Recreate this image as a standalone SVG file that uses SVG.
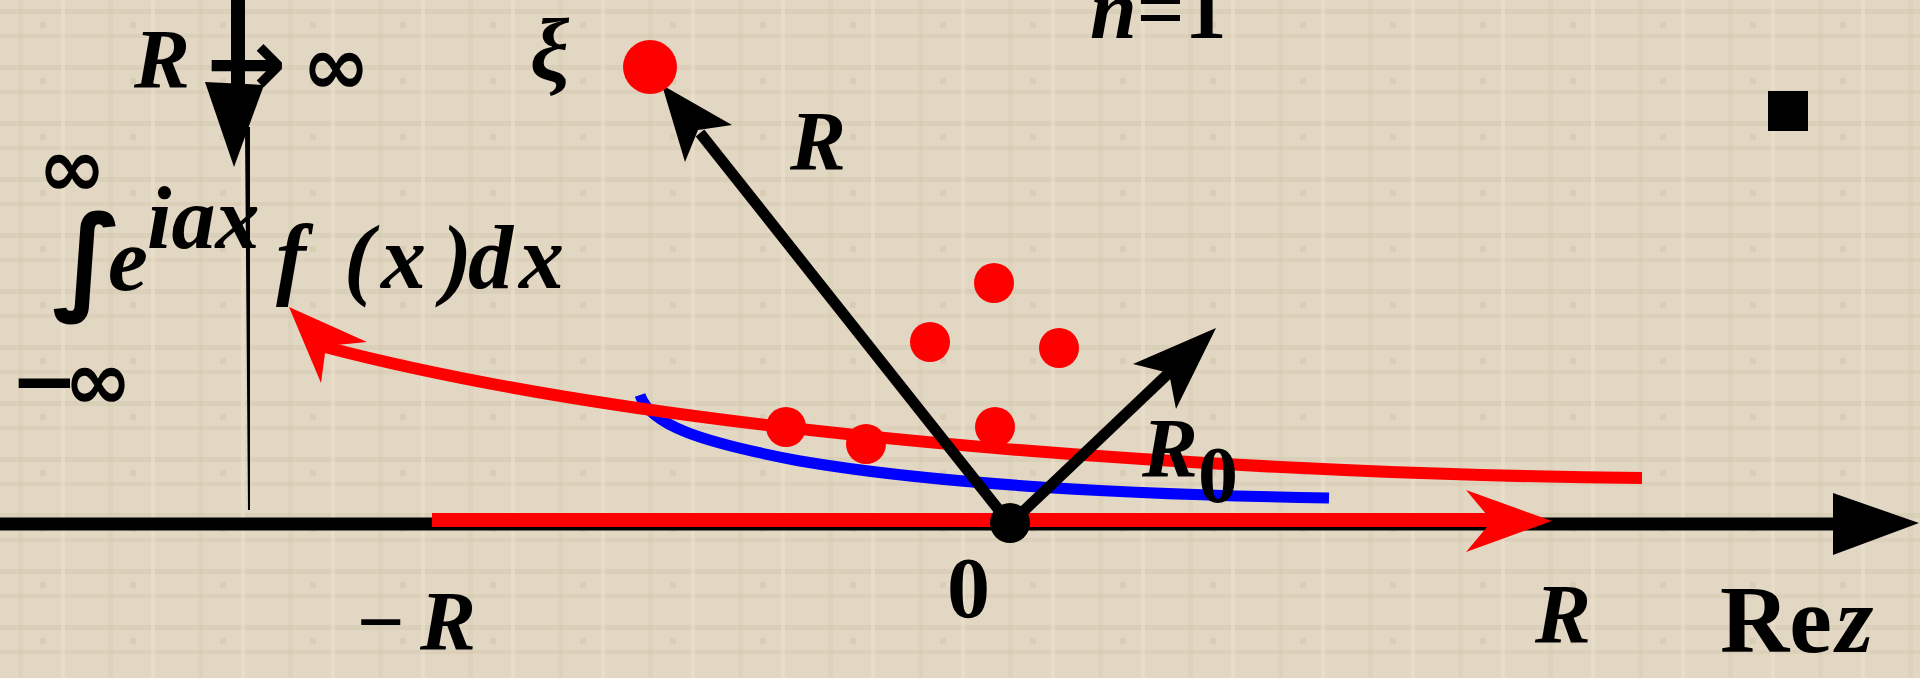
<svg xmlns="http://www.w3.org/2000/svg" width="1920" height="678" viewBox="0 0 1920 678">
<defs>
<style>
.bi{font-family:"Liberation Serif","Times New Roman",serif;font-weight:bold;font-style:italic;fill:#000}
.b{font-family:"Liberation Serif","Times New Roman",serif;font-weight:bold;fill:#000}
.sym{font-family:"DejaVu Sans",sans-serif;font-weight:bold;fill:#000}
.dot{fill:#ff0000}
.blk{stroke:#000;fill:none}
.red{stroke:#ff0000;fill:none}
</style>
<pattern id="grain" width="90" height="56" patternUnits="userSpaceOnUse">
<rect width="90" height="56" fill="#e1d7c2"/>
<rect x="0" y="9" width="90" height="5" fill="#cbbda4" opacity="0.3"/>
<rect x="0" y="34" width="90" height="4" fill="#cbbda4" opacity="0.25"/>
<rect x="18" y="0" width="5" height="56" fill="#cbbda4" opacity="0.22"/>
<rect x="61" y="0" width="4" height="56" fill="#efe5d0" opacity="0.45"/>
<rect x="40" y="22" width="6" height="6" fill="#bfb095" opacity="0.25"/>
</pattern>
</defs>
<rect width="1920" height="678" fill="url(#grain)"/>

<g id="connectors">
<!-- real axis -->
<line class="blk" x1="0" y1="524" x2="1835" y2="524" stroke-width="13"/>
<polygon points="1833,493 1919,523 1833,555" fill="#000"/>
<!-- vertical axis -->
<rect x="231" y="0" width="14" height="85" fill="#000"/>
<polygon points="205,82 264,85 234,167" fill="#000"/>
<polygon points="245,127 250,127 250,510 248,510" fill="#000"/>
<!-- blue contour -->
<path d="M 640 395 C 650 425, 700 442, 800 461 C 900 478, 1050 493, 1329 498" stroke="#0000ff" stroke-width="11" fill="none"/>
<!-- red upper contour -->
<path class="red" d="M 1642 478 C 1300 475, 700 445, 325 347" stroke-width="12"/>
<polygon points="289,307 367,342 326,346 321,383" fill="#ff0000"/>
<!-- red real-line path -->
<line class="red" x1="432" y1="520" x2="1495" y2="520" stroke-width="14"/>
<polygon points="1552,521 1466,490 1492,521 1466,552" fill="#ff0000"/>
<!-- radius arrows -->
<line class="blk" x1="1010" y1="524" x2="700" y2="133" stroke-width="11"/>
<polygon points="662,85 732,125 698,130 685,162" fill="#000"/>
<line class="blk" x1="1010" y1="524" x2="1172" y2="370" stroke-width="11"/>
<polygon points="1216,328 1176,409 1169,373 1133,364" fill="#000"/>
</g>

<g id="origin"><circle cx="1010" cy="523" r="20" fill="#000"/></g>
<g id="xi-point"><circle class="dot" cx="650" cy="67" r="27"/></g>
<g id="poles">
<circle class="dot" cx="994" cy="283" r="20"/>
<circle class="dot" cx="930" cy="342" r="20"/>
<circle class="dot" cx="1059" cy="348" r="20"/>
<circle class="dot" cx="786" cy="427" r="20"/>
<circle class="dot" cx="866" cy="444" r="20"/>
<circle class="dot" cx="995" cy="427" r="20"/>
</g>
<g id="marker-square"><rect x="1768" y="91" width="40" height="40" fill="#000"/></g>

<g id="label-limit">
<text class="bi" x="134" y="88" font-size="84">R</text>
<text class="sym" x="206" y="96" font-size="96">→</text>
<text class="sym" x="302" y="94" font-size="82">∞</text>
</g>
<g id="label-xi"><text class="bi" x="530" y="80" font-size="88">ξ</text></g>
<g id="label-n"><text x="1090" y="38" font-size="84"><tspan class="bi">n</tspan><tspan class="b">=1</tspan></text></g>
<g id="label-R"><text class="bi" x="790" y="170" font-size="84">R</text></g>
<g id="label-R0"><text class="bi" x="1142" y="477" font-size="84">R</text><text class="b" x="1198" y="502" font-size="80">0</text></g>
<g id="label-zero"><text class="b" x="947" y="617" font-size="86">0</text></g>
<g id="label-minusR"><text class="b" x="357" y="650" font-size="84">−</text><text class="bi" x="420" y="650" font-size="84">R</text></g>
<g id="label-Rright"><text class="bi" x="1535" y="643" font-size="84">R</text></g>
<g id="label-Rez"><text x="1720" y="652" font-size="96"><tspan class="b">Re</tspan><tspan class="bi" x="1836">z</tspan></text></g>
<g id="integral">
<text class="sym" x="38" y="196" font-size="82">∞</text>
<text class="sym" x="52" y="298" font-size="116">∫</text>
<text class="sym" y="409" font-size="82"><tspan x="10">−</tspan><tspan x="64">∞</tspan></text>
<text class="bi" x="108" y="290" font-size="90">e</text>
<text class="bi" x="147" y="248" font-size="88">iax</text>
<text class="bi" y="288" font-size="90"><tspan x="276">f</tspan><tspan x="344">(</tspan><tspan x="381">x</tspan><tspan x="442">)</tspan><tspan x="468">d</tspan><tspan x="519">x</tspan></text>
</g>
</svg>
